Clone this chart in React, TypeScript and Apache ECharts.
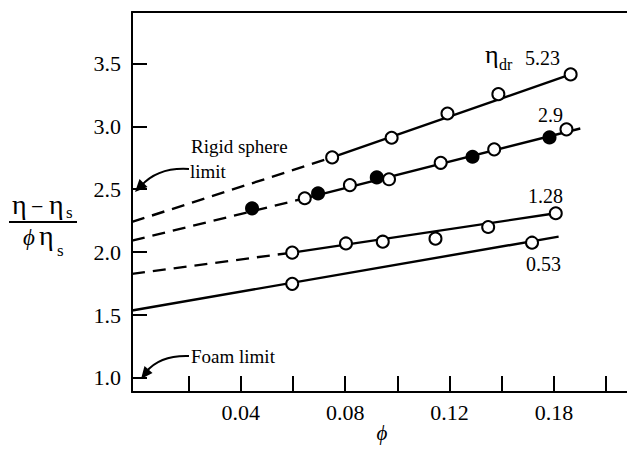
import React, { useEffect, useRef } from "react";
import * as echarts from "echarts";

// Axis ticks and labels
const xTickValues = [0.02, 0.04, 0.06, 0.08, 0.1, 0.12, 0.14, 0.16, 0.18];
const xLabelValues = [0.04, 0.08, 0.12, 0.16];
const xLabelTexts = ["0.04", "0.08", "0.12", "0.18"];
const yTickValues = [1.0, 1.5, 2.0, 2.5, 3.0, 3.5];
const yLabelTexts = ["1.0", "1.5", "2.0", "2.5", "3.0", "3.5"];
const X_MIN = -0.0017;
const X_MAX = 0.188;
const Y_MIN = 0.888;
const Y_MAX = 3.909;

// eta_dr = 5.23
const open523 = [[0.075, 2.753], [0.0978, 2.909], [0.1192, 3.102], [0.1387, 3.256], [0.1664, 3.413]];
const dash523 = [[X_MIN, 2.24], [0.075, 2.753]];
const solid523 = [[0.075, 2.753], [0.1664, 3.413]];

// eta_dr = 2.9
const open29 = [[0.0645, 2.428], [0.0818, 2.533], [0.0968, 2.579], [0.1166, 2.71], [0.1371, 2.817], [0.1648, 2.976]];
const filled29 = [[0.0443, 2.348], [0.0696, 2.467], [0.0921, 2.594], [0.1288, 2.758], [0.1583, 2.912]];
const dash29 = [[X_MIN, 2.091], [0.0645, 2.428]];
const solid29 = [[0.0645, 2.428], [0.1701, 2.983]];

// eta_dr = 1.28
const open128 = [[0.0597, 1.996], [0.0803, 2.069], [0.0944, 2.083], [0.1146, 2.107], [0.1348, 2.2], [0.1607, 2.309]];
const dash128 = [[X_MIN, 1.827], [0.0597, 1.996]];
const solid128 = [[0.0597, 1.996], [0.1607, 2.309]];

// eta_dr = 0.53
const open053 = [[0.0597, 1.748], [0.1516, 2.075]];
const solid053 = [[X_MIN, 1.536], [0.1618, 2.123]];

const SERIF = "'Liberation Serif', 'DejaVu Serif', serif";

const lineSeries = (data: number[][], dashed: boolean) => ({
  type: "line",
  data,
  symbol: "none",
  silent: true,
  lineStyle: { color: "#000", width: 2.4, type: dashed ? [13, 8] : "solid" },
  z: 2,
});

const scatterSeries = (data: number[][], filled: boolean) => ({
  type: "scatter",
  data,
  symbol: "circle",
  symbolSize: 12,
  itemStyle: { color: filled ? "#000" : "#fff", borderColor: "#000", borderWidth: 2, opacity: 1 },
  z: 4,
});

const txt = (text: string, x: number, y: number, size: number, extra: any = {}) => ({
  type: "text",
  x,
  y,
  silent: true,
  style: {
    text,
    fill: "#000",
    fontSize: size,
    fontFamily: SERIF,
    align: "left",
    verticalAlign: "middle",
    ...extra,
  },
});

export default function App() {
  const ref = useRef<HTMLDivElement>(null);
  useEffect(() => {
    if (!ref.current) return;
    const chart = echarts.init(ref.current, null, { renderer: "svg" });
    const axisLineStyle = { color: "#000", width: 2 };
    chart.setOption({
      animation: false,
      backgroundColor: "#fff",
      grid: { left: 132, right: 0, top: 12, bottom: 58, outerBoundsMode: "none" },
      xAxis: [
        {
          type: "value",
          min: X_MIN,
          max: X_MAX,
          axisLine: { show: true, onZero: false, lineStyle: axisLineStyle },
          axisTick: { show: true, inside: true, length: 16, customValues: xTickValues, lineStyle: axisLineStyle },
          axisLabel: {
            customValues: xLabelValues,
            margin: 9,
            color: "#000",
            fontSize: 22,
            fontFamily: SERIF,
            formatter: (v: number) => {
              let best = 0;
              xLabelValues.forEach((lv, i) => {
                if (Math.abs(lv - v) < Math.abs(xLabelValues[best] - v)) best = i;
              });
              return xLabelTexts[best];
            },
          },
          splitLine: { show: false },
        },
        {
          type: "value",
          position: "top",
          min: X_MIN,
          max: X_MAX,
          axisLine: { show: true, onZero: false, lineStyle: axisLineStyle },
          axisTick: { show: false },
          axisLabel: { show: false },
          splitLine: { show: false },
        },
      ],
      yAxis: {
        type: "value",
        min: Y_MIN,
        max: Y_MAX,
        axisLine: { show: true, onZero: false, lineStyle: axisLineStyle },
        axisTick: { show: true, inside: true, length: 15, customValues: yTickValues, lineStyle: axisLineStyle },
        axisLabel: {
          customValues: yTickValues,
          margin: 11,
          color: "#000",
          fontSize: 22,
          fontFamily: SERIF,
          formatter: (v: number) => {
            let best = 0;
            yTickValues.forEach((tv, i) => {
              if (Math.abs(tv - v) < Math.abs(yTickValues[best] - v)) best = i;
            });
            return yLabelTexts[best];
          },
        },
        splitLine: { show: false },
      },
      series: [
        lineSeries(dash523, true),
        lineSeries(solid523, false),
        scatterSeries(open523, false),
        lineSeries(dash29, true),
        lineSeries(solid29, false),
        scatterSeries(open29, false),
        scatterSeries(filled29, true),
        lineSeries(dash128, true),
        lineSeries(solid128, false),
        scatterSeries(open128, false),
        lineSeries(solid053, false),
        scatterSeries(open053, false),
      ],
      graphic: [
        // y-axis title: (η − η_s) / (ϕ η_s)
        txt("η", 12, 204, 28),
        txt("−", 31, 206, 22),
        txt("η", 49, 204, 28),
        txt("s", 66, 212, 17),
        {
          type: "line",
          silent: true,
          shape: { x1: 9, y1: 222, x2: 77, y2: 222 },
          style: { stroke: "#000", lineWidth: 2 },
        },
        txt("ϕ", 23, 237, 23, { fontStyle: "italic" }),
        txt("η", 39, 235.5, 28),
        txt("s", 57, 250, 17),
        // x-axis title
        txt("ϕ", 382, 433, 21, { fontStyle: "italic", align: "center" }),
        // curve labels
        txt("η", 485, 54, 26),
        txt("dr", 499, 64, 16),
        txt("5.23", 525, 58, 20),
        txt("2.9", 538, 115, 20),
        txt("1.28", 528, 196, 20),
        txt("0.53", 526, 264, 20),
        // annotations
        txt("Rigid sphere", 191, 146, 19),
        txt("limit", 190, 171, 19),
        txt("Foam limit", 191, 356, 19),
        {
          type: "bezierCurve",
          silent: true,
          shape: { x1: 189, y1: 169, cpx1: 158, cpy1: 167, x2: 141, y2: 186 },
          style: { stroke: "#000", lineWidth: 2, fill: null },
        },
        {
          type: "polygon",
          silent: true,
          shape: { points: [[135, 192], [147.5, 187], [139.5, 179]] },
          style: { fill: "#000" },
        },
        {
          type: "bezierCurve",
          silent: true,
          shape: { x1: 189, y1: 356, cpx1: 160, cpy1: 355, x2: 146, y2: 372 },
          style: { stroke: "#000", lineWidth: 2, fill: null },
        },
        {
          type: "polygon",
          silent: true,
          shape: { points: [[141, 379], [152.5, 373], [144.5, 366]] },
          style: { fill: "#000" },
        },
      ],
    });
    return () => chart.dispose();
  }, []);
  return (
    <div
      ref={ref}
      style={{ position: "absolute", left: 0, top: 0, width: 627, height: 450, background: "#fff" }}
    />
  );
}
